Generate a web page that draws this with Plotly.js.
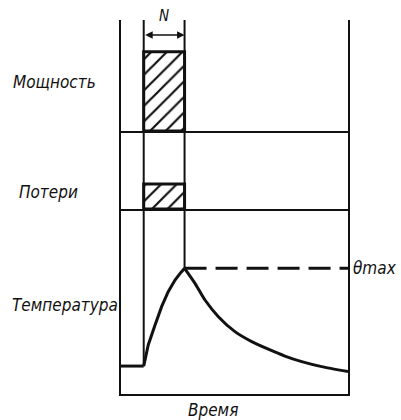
<!DOCTYPE html>
<html>
<head>
<meta charset="utf-8">
<script src="https://cdn.plot.ly/plotly-3.0.1.min.js"></script>
<style>html,body{margin:0;padding:0;background:#fff;}#chart{width:401px;height:420px;}</style>
</head>
<body>
<div id="chart"></div>
<script>
// ---- data (arbitrary schematic units) ----
const panelLabels = ['Мощность', 'Потери', 'Температура'];
const timeLabel = 'Время';
const maxLabel = 'θmax';
const pulseLabel = 'N';

const pulseStart = 10;          // start of load pulse (time units)
const pulseEnd = 28;            // end of load pulse
const timeMax = 100;

const powerLevel = [1.0];       // power during pulse
const lossLevel = [0.32];       // losses during pulse

const ambientT = 15.1;          // initial temperature
const peakT = 67.9;             // θmax

const tFlat = [0, 10];
const tempFlat = [15.1, 15.1];
const tHeat = [10, 12.0, 15.0, 17.9, 20.8, 23.8, 26.3, 28];
const tempHeat = [15.1, 26.5, 37.3, 47.2, 55.3, 61.6, 65.6, 67.9];
const tCool = [28, 32.6, 37.0, 42.9, 50.2, 57.6, 64.9, 72.2, 79.6, 88.4, 100];
const tempCool = [67.9, 59.8, 50.8, 41.8, 33.7, 28.3, 24.2, 20.5, 17.5, 14.8, 12.1];

const arrowLevel = 1.21;        // height of the N dimension arrow in power panel

// ---- styling ----
const black = '#111';
const labelFont = {family: 'DejaVu Sans Condensed, DejaVu Sans', size: 17, color: black, style: 'italic'};

const pulseMid = (pulseStart + pulseEnd) / 2;
const pulseWidth = pulseEnd - pulseStart;

const hatch = {shape: '/', fgcolor: black, bgcolor: 'white', size: 11, solidity: 0.2};

const vline = (x, y0, y1, xa, ya) => ({
  type: 'scatter', mode: 'lines', x: [x, x], y: [y0, y1], xaxis: xa, yaxis: ya,
  line: {color: black, width: 2}, hoverinfo: 'skip', showlegend: false
});

const traces = [
  // power bar
  {type: 'bar', x: [pulseMid], y: powerLevel, width: [pulseWidth], xaxis: 'x3', yaxis: 'y3',
   marker: {color: 'white', pattern: hatch, line: {color: black, width: 3}}, showlegend: false, hoverinfo: 'skip'},
  // losses bar
  {type: 'bar', x: [pulseMid], y: lossLevel, width: [pulseWidth], xaxis: 'x2', yaxis: 'y2',
   marker: {color: 'white', pattern: hatch, line: {color: black, width: 3}}, showlegend: false, hoverinfo: 'skip'},
  // pulse boundary lines
  vline(pulseStart, 0, 1.4, 'x3', 'y3'),
  vline(pulseEnd, 0, 1.4, 'x3', 'y3'),
  vline(pulseStart, 0, 1, 'x2', 'y2'),
  vline(pulseEnd, 0, 1, 'x2', 'y2'),
  vline(pulseStart, ambientT, 100, 'x', 'y'),
  vline(pulseEnd, peakT, 100, 'x', 'y'),
  // temperature
  {type: 'scatter', mode: 'lines', x: tFlat, y: tempFlat, line: {color: black, width: 3}, showlegend: false, hoverinfo: 'skip'},
  {type: 'scatter', mode: 'lines', x: tHeat, y: tempHeat, line: {color: black, width: 3, shape: 'linear'}, showlegend: false, hoverinfo: 'skip'},
  {type: 'scatter', mode: 'lines', x: tCool, y: tempCool, line: {color: black, width: 3, shape: 'spline', smoothing: 0.6}, showlegend: false, hoverinfo: 'skip'},
  // θmax dashed line
  {type: 'scatter', mode: 'lines', x: [pulseEnd, timeMax], y: [peakT, peakT], line: {color: black, width: 3, dash: '22px,9px'}, showlegend: false, hoverinfo: 'skip'}
];

const xBase = {range: [0, timeMax], showline: true, linecolor: black, linewidth: 2, mirror: false,
  showgrid: false, zeroline: false, showticklabels: false, ticks: '', fixedrange: true};
const yBase = {showline: true, linecolor: black, linewidth: 2, mirror: true,
  showgrid: false, zeroline: false, showticklabels: false, ticks: '', fixedrange: true};

const layout = {
  width: 401, height: 420,
  margin: {l: 121, r: 53, t: 20, b: 26},
  paper_bgcolor: 'white', plot_bgcolor: 'rgba(0,0,0,0)',
  showlegend: false,
  bargap: 0,
  xaxis: Object.assign({}, xBase, {anchor: 'y'}),
  xaxis2: Object.assign({}, xBase, {anchor: 'y2', matches: 'x'}),
  xaxis3: Object.assign({}, xBase, {anchor: 'y3', matches: 'x'}),
  yaxis: Object.assign({}, yBase, {anchor: 'x', domain: [0, 0.4947], range: [0, 100]}),
  yaxis2: Object.assign({}, yBase, {anchor: 'x2', domain: [0.4947, 0.7032], range: [0, 1]}),
  yaxis3: Object.assign({}, yBase, {anchor: 'x3', domain: [0.7032, 1], range: [0, 1.4]}),
  annotations: [
    {text: panelLabels[0], xref: 'paper', yref: 'paper', x: -0.484, y: 0.834, xanchor: 'left', yanchor: 'middle', showarrow: false, font: labelFont},
    {text: panelLabels[1], xref: 'paper', yref: 'paper', x: -0.46, y: 0.540, xanchor: 'left', yanchor: 'middle', showarrow: false, font: labelFont},
    {text: panelLabels[2], xref: 'paper', yref: 'paper', x: -0.49, y: 0.238, xanchor: 'left', yanchor: 'middle', showarrow: false, font: labelFont},
    {text: timeLabel, xref: 'paper', yref: 'paper', x: 0.405, y: -0.043, xanchor: 'center', yanchor: 'middle', showarrow: false, font: labelFont},
    {text: maxLabel, xref: 'paper', yref: 'y', x: 1.015, y: peakT, xanchor: 'left', yanchor: 'middle', showarrow: false, font: labelFont},
    {text: pulseLabel, xref: 'x3', yref: 'paper', x: pulseMid, y: 1.0, xanchor: 'center', yanchor: 'bottom', yshift: -7, showarrow: false, font: Object.assign({}, labelFont, {size: 15})},
    {text: '', xref: 'x3', yref: 'y3', axref: 'x3', ayref: 'y3', x: pulseEnd, y: arrowLevel, ax: pulseStart, ay: arrowLevel,
     showarrow: true, arrowside: 'end+start', arrowhead: 2, arrowsize: 1, arrowwidth: 1.5, arrowcolor: black, standoff: 0, startstandoff: 0}
  ]
};

Plotly.newPlot('chart', traces, layout, {displayModeBar: false, staticPlot: true});
</script>
</body>
</html>
